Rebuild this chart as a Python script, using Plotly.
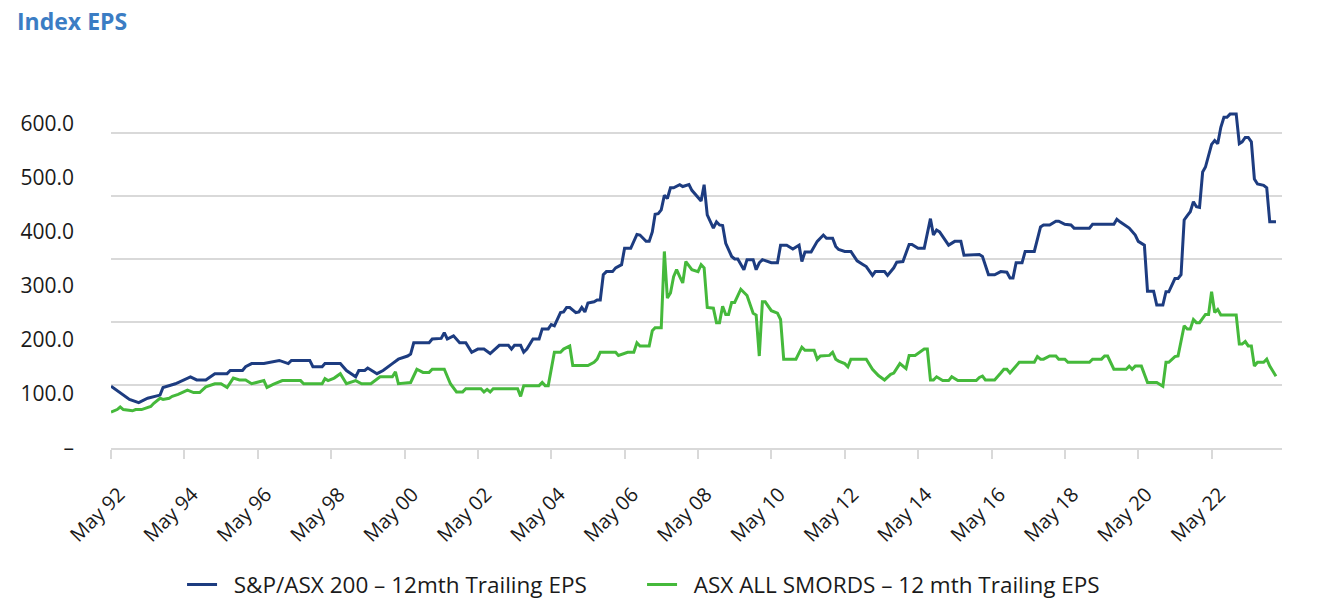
import plotly.graph_objects as go

# S&P/ASX 200 - 12mth trailing EPS
asx200_dates = [
    "1992-05", "1992-08", "1992-11", "1993-02", "1993-05", "1993-09", "1993-10",
    "1994-02", "1994-07", "1994-09", "1994-12", "1995-03", "1995-07", "1995-08",
    "1995-12", "1996-01", "1996-03", "1996-07", "1996-12", "1997-03", "1997-04",
    "1997-10", "1997-11", "1998-02", "1998-03", "1998-08", "1998-10", "1999-01",
    "1999-02", "1999-04", "1999-05", "1999-08", "1999-10", "2000-01", "2000-03",
    "2000-06", "2000-07", "2000-08", "2001-01", "2001-02", "2001-05", "2001-06",
    "2001-07", "2001-09", "2001-11", "2002-01", "2002-03", "2002-05", "2002-07",
    "2002-09", "2002-12", "2003-03", "2003-04", "2003-05", "2003-07", "2003-08",
    "2003-09", "2003-11", "2004-01", "2004-02", "2004-04", "2004-05", "2004-06",
    "2004-08", "2004-09", "2004-10", "2004-11", "2005-01", "2005-02", "2005-03",
    "2005-04", "2005-05", "2005-07", "2005-08", "2005-09", "2005-10", "2005-11",
    "2006-01", "2006-02", "2006-04", "2006-05", "2006-07", "2006-09", "2006-10",
    "2006-12", "2007-01", "2007-02", "2007-03", "2007-04", "2007-05", "2007-06",
    "2007-07", "2007-08", "2007-09", "2007-11", "2007-12", "2008-02", "2008-03",
    "2008-05", "2008-06", "2008-07", "2008-08", "2008-10", "2008-11", "2008-12",
    "2009-01", "2009-02", "2009-04", "2009-05", "2009-06", "2009-08", "2009-09",
    "2009-11", "2009-12", "2010-01", "2010-02", "2010-05", "2010-07", "2010-08",
    "2010-10", "2010-12", "2011-02", "2011-03", "2011-04", "2011-06", "2011-08",
    "2011-10", "2011-11", "2012-01", "2012-02", "2012-03", "2012-05", "2012-07",
    "2012-09", "2012-11", "2012-12", "2013-02", "2013-03", "2013-06", "2013-07",
    "2013-09", "2013-10", "2013-12", "2014-02", "2014-03", "2014-05", "2014-07",
    "2014-09", "2014-10", "2014-11", "2014-12", "2015-03", "2015-05", "2015-07",
    "2015-08", "2015-12", "2016-01", "2016-02", "2016-04", "2016-06", "2016-08",
    "2016-10", "2016-11", "2016-12", "2017-01", "2017-03", "2017-04", "2017-07",
    "2017-08", "2017-09", "2017-10", "2017-12", "2018-02", "2018-03", "2018-05",
    "2018-07", "2018-08", "2019-01", "2019-02", "2019-09", "2019-10", "2019-11",
    "2020-02", "2020-04", "2020-05", "2020-07", "2020-08", "2020-10", "2020-11",
    "2021-01", "2021-02", "2021-03", "2021-05", "2021-06", "2021-07", "2021-08",
    "2021-09", "2021-10", "2021-11", "2021-12", "2022-01", "2022-02", "2022-03",
    "2022-04", "2022-05", "2022-06", "2022-07", "2022-08", "2022-09", "2022-10",
    "2022-11", "2023-01", "2023-02", "2023-03", "2023-04", "2023-05", "2023-06",
    "2023-07", "2023-08", "2023-10", "2023-11", "2023-12", "2024-02",
]
asx200_eps = [
    98, 87, 77, 72, 79, 84, 96,
    102, 113, 108, 108, 118, 118, 123,
    123, 129, 134, 134, 139, 134, 139,
    139, 129, 129, 134, 134, 123, 113,
    123, 123, 127, 118, 123, 134, 141,
    146, 149, 167, 167, 173, 174, 183,
    173, 178, 167, 167, 152, 157, 157,
    150, 163, 163, 157, 163, 163, 152,
    157, 173, 173, 189, 189, 196, 194,
    215, 216, 223, 223, 215, 216, 223,
    216, 230, 232, 235, 235, 275, 280,
    280, 286, 291, 317, 317, 339, 338,
    328, 328, 343, 371, 372, 378, 401,
    396, 413, 413, 418, 415, 418, 409,
    398, 392, 418, 370, 349, 359, 354,
    353, 325, 304, 300, 300, 283, 299,
    299, 283, 294, 299, 294, 294, 322,
    322, 316, 322, 296, 311, 311, 328,
    338, 333, 333, 320, 315, 312, 312,
    297, 291, 288, 274, 280, 280, 274,
    286, 295, 296, 323, 323, 317, 317,
    364, 338, 346, 343, 322, 328, 328,
    306, 306, 307, 304, 275, 275, 280,
    279, 270, 270, 294, 294, 312, 312,
    333, 351, 354, 354, 360, 360, 355,
    354, 349, 349, 355, 355, 363, 359,
    349, 338, 328, 322, 249, 249, 227,
    227, 248, 248, 269, 269, 275, 362,
    369, 375, 391, 383, 382, 438, 446,
    465, 482, 488, 483, 509, 525, 525,
    530, 530, 483, 486, 493, 493, 486,
    427, 419, 417, 413, 359, 359,
]

# ASX All Ordinaries (SMORDS) - 12 mth trailing EPS
smords_dates = [
    "1992-05", "1992-07", "1992-08", "1992-09", "1992-12", "1993-01", "1993-03",
    "1993-06", "1993-07", "1993-09", "1993-10", "1993-12", "1994-01", "1994-03",
    "1994-06", "1994-08", "1994-10", "1994-12", "1995-03", "1995-05", "1995-07",
    "1995-09", "1995-11", "1996-01", "1996-03", "1996-07", "1996-08", "1996-10",
    "1997-01", "1997-07", "1997-08", "1998-02", "1998-03", "1998-04", "1998-06",
    "1998-08", "1998-10", "1999-01", "1999-03", "1999-06", "1999-09", "2000-01",
    "2000-02", "2000-03", "2000-07", "2000-09", "2000-11", "2001-01", "2001-02",
    "2001-06", "2001-08", "2001-10", "2001-12", "2002-01", "2002-06", "2002-07",
    "2002-08", "2002-09", "2002-10", "2003-06", "2003-07", "2003-08", "2004-01",
    "2004-02", "2004-03", "2004-04", "2004-06", "2004-08", "2004-09", "2004-11",
    "2004-12", "2005-05", "2005-07", "2005-08", "2005-09", "2006-02", "2006-03",
    "2006-06", "2006-08", "2006-09", "2006-10", "2007-01", "2007-02", "2007-03",
    "2007-05", "2007-06", "2007-07", "2007-08", "2007-09", "2007-10", "2007-11",
    "2007-12", "2008-01", "2008-03", "2008-05", "2008-06", "2008-07", "2008-08",
    "2008-10", "2008-11", "2008-12", "2009-01", "2009-02", "2009-03", "2009-04",
    "2009-05", "2009-07", "2009-09", "2009-11", "2009-12", "2010-01", "2010-02",
    "2010-03", "2010-05", "2010-07", "2010-08", "2010-09", "2011-01", "2011-03",
    "2011-04", "2011-07", "2011-08", "2011-09", "2011-12", "2012-01", "2012-02",
    "2012-03", "2012-05", "2012-06", "2012-07", "2012-12", "2013-02", "2013-04",
    "2013-06", "2013-08", "2013-09", "2013-11", "2014-01", "2014-02", "2014-04",
    "2014-07", "2014-08", "2014-09", "2014-10", "2014-11", "2015-01", "2015-03",
    "2015-04", "2015-06", "2015-12", "2016-01", "2016-02", "2016-03", "2016-06",
    "2016-08", "2016-09", "2016-10", "2016-11", "2017-02", "2017-07", "2017-08",
    "2017-09", "2017-10", "2017-12", "2018-02", "2018-03", "2018-05", "2018-06",
    "2019-01", "2019-02", "2019-05", "2019-06", "2019-07", "2019-09", "2020-01",
    "2020-02", "2020-03", "2020-04", "2020-06", "2020-08", "2020-11", "2021-01",
    "2021-02", "2021-03", "2021-05", "2021-06", "2021-08", "2021-09", "2021-10",
    "2021-11", "2021-12", "2022-01", "2022-03", "2022-04", "2022-05", "2022-06",
    "2022-07", "2022-08", "2023-01", "2023-02", "2023-03", "2023-04", "2023-05",
    "2023-06", "2023-07", "2023-08", "2023-10", "2023-11", "2023-12", "2024-02",
]
smords_eps = [
    57, 61, 65, 61, 59, 61, 61,
    66, 71, 79, 77, 79, 82, 85,
    92, 88, 88, 97, 102, 102, 96,
    111, 108, 108, 102, 107, 96, 101,
    107, 107, 102, 102, 110, 107, 111,
    118, 102, 107, 102, 102, 113, 113,
    121, 102, 104, 125, 120, 120, 125,
    125, 102, 89, 89, 94, 94, 89,
    93, 89, 94, 94, 82, 99, 99,
    104, 99, 99, 152, 152, 157, 162,
    131, 131, 136, 141, 152, 152, 147,
    152, 152, 167, 162, 162, 186, 191,
    191, 312, 238, 246, 272, 283, 272,
    262, 296, 283, 280, 291, 286, 223,
    222, 199, 199, 225, 212, 212, 231,
    231, 252, 242, 214, 211, 146, 232,
    232, 218, 214, 204, 141, 141, 160,
    155, 155, 141, 146, 147, 152, 141,
    138, 134, 129, 141, 141, 125, 115,
    108, 117, 119, 134, 126, 147, 147,
    157, 157, 108, 108, 113, 107, 107,
    113, 107, 107, 112, 114, 108, 108,
    119, 125, 125, 119, 136, 136, 145,
    141, 141, 146, 146, 141, 141, 136,
    136, 141, 141, 146, 146, 125, 125,
    130, 125, 130, 130, 104, 104, 98,
    136, 136, 145, 146, 194, 189, 189,
    204, 199, 199, 212, 212, 248, 215,
    220, 211, 211, 165, 165, 169, 162,
    162, 130, 136, 136, 141, 130, 114,
]

# y labels as printed on the chart (they sit off the gridlines in the original)
label_vals = [0, 100, 200, 300, 400, 500, 600]
label_text = ["–", "100.0", "200.0", "300.0", "400.0", "500.0", "600.0"]

BLUE = "#1d3c80"
GREEN = "#45b93b"
GRID = "#d9d9d9"
FONT = "Open Sans"

# the page body adds an 8px offset, so the figure is drawn 8px smaller
W, H = 1316, 606

fig = go.Figure()

fig.add_trace(go.Scatter(
    x=asx200_dates, y=asx200_eps,
    mode="lines", name="\u00a0\u00a0S&P/ASX 200 – 12mth Trailing EPS",
    line=dict(color=BLUE, width=3),
))
fig.add_trace(go.Scatter(
    x=smords_dates, y=smords_eps,
    mode="lines", name="\u00a0\u00a0ASX ALL SMORDS – 12 mth Trailing EPS",
    line=dict(color=GREEN, width=3),
))
# empty trace so the label axis gets drawn
fig.add_trace(go.Scatter(x=[], y=[], yaxis="y2", showlegend=False, hoverinfo="skip"))

fig.update_layout(
    width=W, height=H,
    paper_bgcolor="white", plot_bgcolor="white",
    margin=dict(l=103, r=42, t=62, b=166, autoexpand=False),
    font=dict(family=FONT, size=21, color="#1a1a1a"),
    title=dict(
        text="<b>Index EPS</b>",
        x=9 / W, xanchor="left", xref="container",
        y=1 - 14 / H, yanchor="middle", yref="container",
        font=dict(family=FONT, size=23, color="#3b7dc4"),
    ),
    xaxis=dict(
        type="date",
        range=["1992-05-01", "2024-04-01"],
        tick0="1992-05-01", dtick="M24", tickformat="%b %y",
        tickangle=-45,
        ticks="outside", ticklen=9, tickcolor=GRID, tickwidth=1.5,
        ticklabelstandoff=16, ticklabelshift=8,
        showline=True, linecolor=GRID, linewidth=1.5,
        showgrid=False, zeroline=False,
        tickfont=dict(size=20),
    ),
    yaxis=dict(
        range=[0, 600], dtick=100,
        showgrid=True, gridcolor=GRID, gridwidth=1.5,
        showticklabels=False, zeroline=False, showline=False,
    ),
    yaxis2=dict(
        overlaying="y", side="left",
        range=[0, 700],
        tickvals=label_vals, ticktext=label_text,
        showgrid=False, zeroline=False, showline=False,
        ticklabelstandoff=36,
        tickfont=dict(size=21),
    ),
    legend=dict(
        orientation="h",
        x=0.4535, xanchor="center",
        y=-0.362, yanchor="middle",
        font=dict(size=22.5),
        entrywidth=415, entrywidthmode="pixels",
    ),
    hovermode="x unified",
)

fig.write_html("out.html")
